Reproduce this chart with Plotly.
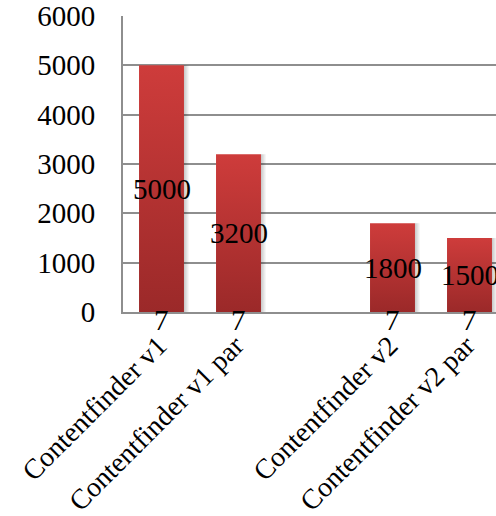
import plotly.graph_objects as go

# Chart data
categories = ["Contentfinder v1", "Contentfinder v1 par", "", "Contentfinder v2", "Contentfinder v2 par"]
runtime = [5000, 3200, None, 1800, 1500]
runs = [7, 7, None, 7, 7]
y_ticks = [0, 1000, 2000, 3000, 4000, 5000, 6000]

FONT = "Liberation Serif, Times New Roman, serif"
FONT_SIZE = 29
BAR_HALF = 0.292
SHADOW_W = 0.07
TOP_RED = "#ce3c3b"
BOTTOM_RED = "#9b2929"
GRID = "#8e8e8e"

fig = go.Figure()

positions = list(range(len(categories)))

for pos, val in zip(positions, runtime):
    if val is None:
        continue
    # soft drop shadow on the right side of the bar
    fig.add_trace(go.Scatter(
        x=[pos + BAR_HALF, pos + BAR_HALF + SHADOW_W, pos + BAR_HALF + SHADOW_W, pos + BAR_HALF, pos + BAR_HALF],
        y=[0, 0, val, val, 0],
        mode="lines", line=dict(width=0), fill="toself",
        fillgradient=dict(type="horizontal",
                          colorscale=[[0, "rgba(0,0,0,0.22)"], [1, "rgba(0,0,0,0)"]]),
        hoverinfo="skip", showlegend=False,
    ))
    # bar body with a vertical red gradient
    fig.add_trace(go.Scatter(
        x=[pos - BAR_HALF, pos + BAR_HALF, pos + BAR_HALF, pos - BAR_HALF, pos - BAR_HALF],
        y=[0, 0, val, val, 0],
        mode="lines", line=dict(width=0), fill="toself",
        fillgradient=dict(type="vertical",
                          colorscale=[[0, BOTTOM_RED], [1, TOP_RED]]),
        hoverinfo="text", text=f"{categories[pos]}: {val}", showlegend=False,
    ))

label_font = dict(family=FONT, size=FONT_SIZE, color="black")

# value labels centred in each bar
for pos, val in zip(positions, runtime):
    if val is None:
        continue
    fig.add_annotation(x=pos, y=val / 2, text=str(val), showarrow=False,
                       xanchor="center", yanchor="middle", font=label_font)

# run-count labels at the base of each bar
for pos, n in zip(positions, runs):
    if n is None:
        continue
    fig.add_annotation(x=pos, y=n, text=str(n), showarrow=False,
                       xanchor="center", yanchor="middle", yshift=-8,
                       font=label_font)

tick_pos = [p for p, c in zip(positions, categories) if c]
tick_txt = [c for c in categories if c]

fig.update_layout(
    width=496, height=516,
    margin=dict(l=123, r=0, t=16, b=204),
    plot_bgcolor="white", paper_bgcolor="white",
    font=dict(family=FONT, size=FONT_SIZE, color="black"),
    xaxis=dict(
        range=[-0.5, -0.5 + 373 / 77], automargin=False,
        tickvals=tick_pos, ticktext=tick_txt, tickangle=-45,
        showgrid=False, zeroline=False,
        showline=True, linecolor=GRID, linewidth=2,
        ticks="", ticklabelstandoff=4, ticklabelshift=-3,
        tickfont=dict(family=FONT, size=28, color="black"),
    ),
    yaxis=dict(
        range=[0, 6000], tickvals=y_ticks, automargin=False,
        showgrid=True, gridcolor=GRID, gridwidth=2,
        zeroline=False, showline=True, linecolor=GRID, linewidth=2,
        ticks="", ticklabelstandoff=20,
        tickfont=label_font,
    ),
)

fig.write_html("out.html")
